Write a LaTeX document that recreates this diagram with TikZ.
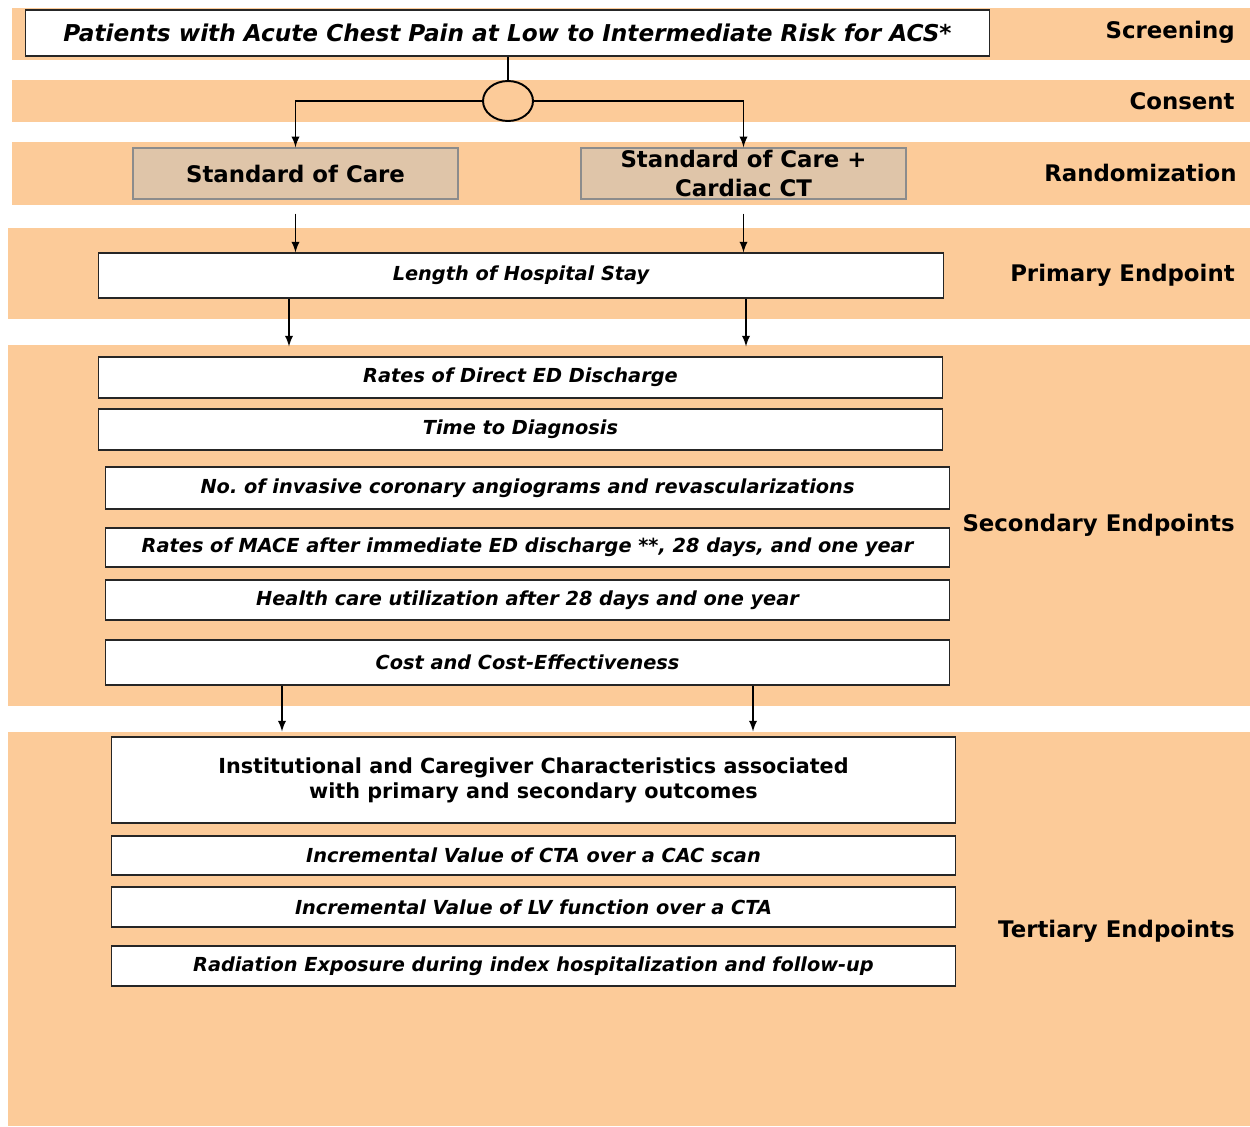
\documentclass[tikz,border=0pt]{standalone}
\usepackage{fontspec}
\setmainfont{DejaVu Sans}
\usetikzlibrary{shapes,arrows,calc}
\definecolor{band}{RGB}{252,203,153}
\definecolor{arm}{RGB}{223,197,169}
\tikzset{
	box/.style={draw=black!85, fill=white, line width=0.6pt, inner sep=0pt, align=center, minimum width=16.9cm, font=\fontsize{11}{13}\selectfont\bfseries\itshape},
	armbox/.style={draw=black!45, fill=arm, line width=0.8pt, inner sep=0pt, align=center, minimum width=6.5cm, minimum height=1.02cm, font=\fontsize{13}{16}\selectfont\bfseries},
	lbl/.style={anchor=east, inner sep=0pt, font=\fontsize{13}{15}\selectfont\bfseries},
	conn/.style={line width=1.1pt},
	arr/.style={conn, -latex}
}
\frenchspacing
\begin{document}
\begin{tikzpicture}[x=0.02cm, y=-0.02cm]

		\useasboundingbox (0,0) rectangle (1250,1126);
		\fill[band] (12,8) rectangle (1250,60);
		\fill[band] (12,80) rectangle (1250,122);
		\fill[band] (12,142) rectangle (1250,205);
		\fill[band] (8,228) rectangle (1250,319);
		\fill[band] (8,345) rectangle (1250,706);
		\fill[band] (8,732) rectangle (1250,1126);

		\node[lbl] (screening) at (1235,32) {Screening};
		\node[lbl] (consent) at (1235,101) {Consent};
		\node[lbl] (randomization) at (1237,173) {Randomization};
		\node[lbl] (primary) at (1235,275) {Primary Endpoint};
		\node[lbl] (secondary) at (1235,525) {Secondary Endpoints};
		\node[lbl] (tertiary) at (1235,931) {Tertiary Endpoints};

		\node[box, minimum width=19.3cm, minimum height=0.92cm, font=\fontsize{13.2}{15}\selectfont\bfseries\itshape] (pat) at (507.5,33) {Patients with Acute Chest Pain at Low to Intermediate Risk for ACS*};
		\node[draw, ellipse, conn, minimum width=1cm, minimum height=0.8cm] (rnd) at (508,101) {};
		\node[armbox] (soc) at (295.5,173.5) {Standard of Care};
		\node[armbox] (ct) at (743.5,173.5) {Standard of Care +\\Cardiac CT};

		\node[box, minimum width=16.92cm, minimum height=0.9cm] (los) at (521,275.5) {Length of Hospital Stay};

		\node[box, minimum height=0.82cm] (ded) at (520.5,377.5) {Rates of Direct ED Discharge};
		\node[box, minimum height=0.82cm] (ttd) at (520.5,429.5) {Time to Diagnosis};
		\node[box, minimum height=0.84cm] (inv) at (527.5,488) {No. of invasive coronary angiograms and revascularizations};
		\node[box, minimum height=0.78cm] (mace) at (527.5,547.5) {Rates of MACE after immediate ED discharge **, 28 days, and one year};
		\node[box, minimum height=0.8cm] (hcu) at (527.5,600) {Health care utilization after 28 days and one year};
		\node[box, minimum height=0.9cm] (cost) at (527.5,662.5) {Cost and Cost-Effectiveness};

		\node[box, minimum height=1.72cm, font=\fontsize{11.8}{14.2}\selectfont\bfseries] (inst) at (533.5,780) {Institutional and Caregiver Characteristics associated\\with primary and secondary outcomes};
		\node[box, minimum height=0.78cm] (cta) at (533.5,855.5) {Incremental Value of CTA over a CAC scan};
		\node[box, minimum height=0.8cm] (lv) at (533.5,907) {Incremental Value of LV function over a CTA};
		\node[box, minimum height=0.8cm] (rad) at (533.5,966) {Radiation Exposure during index hospitalization and follow-up};

		\coordinate (pl) at (289,0);
		\coordinate (pr) at (746,0);
		\coordinate (sl) at (282,0);
		\coordinate (sr) at (753,0);

		\draw[conn] (pat.south -| rnd.north) -- (rnd.north);
		\draw[arr] (rnd.west) -| (soc.north);
		\draw[arr] (rnd.east) -| (ct.north);
		\draw[arr, shorten <=0.28cm] (soc.south) -- (soc.south |- los.north);
		\draw[arr, shorten <=0.28cm] (ct.south) -- (ct.south |- los.north);
		\draw[arr, shorten >=0.2cm] (los.south -| pl) -- (ded.north -| pl);
		\draw[arr, shorten >=0.2cm] (los.south -| pr) -- (ded.north -| pr);
		\draw[arr, shorten >=0.1cm] (cost.south -| sl) -- (inst.north -| sl);
		\draw[arr, shorten >=0.1cm] (cost.south -| sr) -- (inst.north -| sr);
\end{tikzpicture}
\end{document}
